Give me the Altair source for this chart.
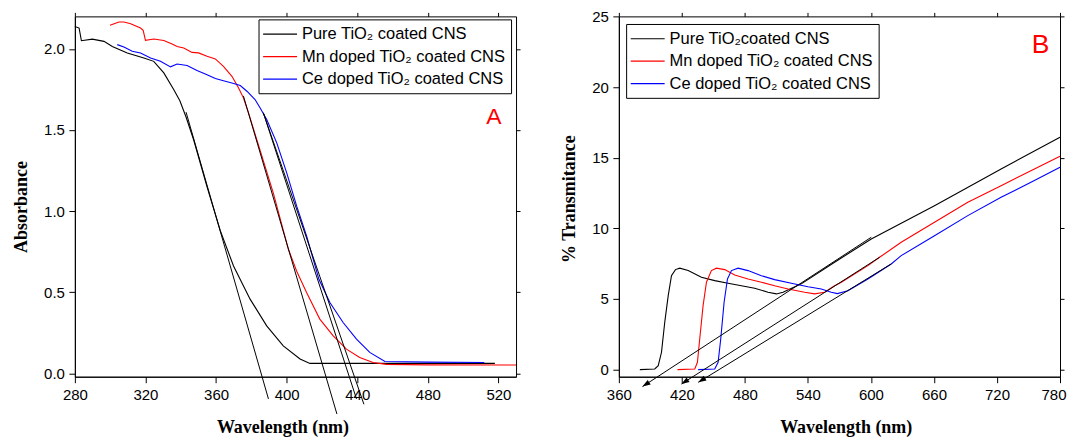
import altair as alt
import pandas as pd

# ---------------- Panel A : Absorbance ----------------
a_pure_x = [280, 282.4, 283.7, 289.9, 296.5, 301.2, 309.7, 319.1, 324.7, 330.4, 336, 339.5, 343, 347.3,
            354.9, 362.4, 369.9, 379.3, 388.7, 398.1, 407.6, 413.2, 460, 518]
a_pure_y = [2.138, 2.128, 2.05, 2.06, 2.046, 2.015, 1.975, 1.944, 1.923, 1.852, 1.749, 1.68, 1.58, 1.44,
            1.15, 0.88, 0.662, 0.458, 0.293, 0.17, 0.089, 0.062, 0.062, 0.062]

a_mn_x = [299.9, 305, 307.8, 311.6, 317.2, 318.7, 320, 324.7, 330.4, 335.1, 337.9, 341.7, 346.4, 350.1,
          354.9, 359.6, 364.2, 369, 372.7, 375.5, 378.4, 392.5, 401, 405.7, 411.3, 418.8, 426.4, 433.9,
          441.4, 449, 456.5, 480, 530]
a_mn_y = [2.145, 2.165, 2.165, 2.155, 2.128, 2.114, 2.052, 2.061, 2.052, 2.03, 2.015, 2.005, 1.978, 1.975,
          1.954, 1.938, 1.892, 1.831, 1.76, 1.698, 1.606, 1.11, 0.765, 0.63, 0.499, 0.335, 0.232, 0.15,
          0.099, 0.068, 0.056, 0.053, 0.052]

a_ce_x = [304, 307.8, 312.5, 317.2, 322.9, 328.5, 334.2, 337.9, 343.6, 349.2, 354.9, 359.6, 364.2, 370,
          373.7, 377.5, 382.1, 385, 388.7, 394.4, 400, 405.7, 411.3, 418.3, 424.5, 432, 439.6, 447.1,
          455.7, 480, 512]
a_ce_y = [2.026, 2.011, 1.985, 1.975, 1.944, 1.923, 1.889, 1.907, 1.897, 1.866, 1.841, 1.817, 1.804, 1.786,
          1.774, 1.739, 1.688, 1.636, 1.565, 1.421, 1.237, 1.031, 0.847, 0.58, 0.437, 0.314, 0.212, 0.13,
          0.074, 0.07, 0.068]

# tangent (extrapolation) lines, panel A
a_tan_id = ["t1", "t1", "t2", "t2", "t3", "t3", "t4", "t4"]
a_tan_x = [343, 389.7, 375.5, 428.5, 386.8, 439.6, 386.8, 443.8]
a_tan_y = [1.61, -0.157, 1.71, -0.25, 1.606, -0.157, 1.606, -0.19]

# ---------------- Panel B : % Transmitance ----------------
b_pure_x = [380, 394.2, 397.5, 400.6, 403.7, 407, 410.1, 413.9, 418, 426, 438.6, 451.3, 464, 476.7,
            489.3, 502, 510, 516.3, 533.7, 565.4, 600.3, 660.5, 723.9, 780]
b_pure_y = [0, 0.05, 0.28, 1.23, 3.35, 5.24, 6.65, 7.08, 7.18, 7.01, 6.54, 6.3, 6.11, 5.94,
            5.76, 5.48, 5.36, 5.48, 6.07, 7.6, 9.25, 11.6, 14.2, 16.45]

b_mn_x = [415.8, 432.3, 434.8, 437, 440.2, 443.4, 448.1, 452.9, 460.8, 470.3, 483, 495.7, 508.3, 521.1,
          536.9, 546.4, 555.9, 565.4, 571.8, 597.1, 608.2, 628.8, 660.5, 692.2, 723.9, 755.6, 780]
b_mn_y = [0, 0.05, 0.52, 2.17, 4.53, 6.19, 7.01, 7.18, 7.08, 6.7, 6.42, 6.19, 5.94, 5.71,
          5.48, 5.36, 5.48, 5.94, 6.19, 7.36, 7.95, 9.01, 10.43, 11.85, 13.02, 14.2, 15.1]

b_ce_x = [435.5, 451.3, 454.5, 457, 460.2, 463.4, 467.2, 473.5, 483, 495.7, 508.3, 524.2, 540.1, 552.7,
          562.2, 568, 578.1, 597.1, 619.3, 628.8, 660.5, 692.2, 723.9, 755.6, 780]
b_ce_y = [0, 0.05, 0.52, 2.17, 4.77, 6.42, 7.01, 7.18, 7.01, 6.65, 6.37, 6.11, 5.87, 5.71,
          5.48, 5.38, 5.59, 6.42, 7.48, 8.07, 9.48, 10.9, 12.2, 13.38, 14.32]

b_tan_id = ["t1", "t1", "t2", "t2", "t3", "t3"]
b_tan_x = [600.3, 382.5, 608.2, 419.5, 619.3, 435.6]
b_tan_y = [9.37, -1.2, 7.95, -1.02, 7.48, -0.9]

# arrow heads at the lower ends of panel B tangents
b_arrow_x = [382.5, 419.5, 435.6]
b_arrow_y = [-1.2, -1.02, -0.9]
b_arrow_angle = [236.9, 237.4, 238.5]

names_A = ["Pure TiO\u2082 coated CNS", "Mn doped TiO\u2082 coated CNS", "Ce doped TiO\u2082 coated CNS"]
names_B = ["Pure TiO\u2082coated CNS", "Mn doped TiO\u2082 coated CNS", "Ce doped TiO\u2082 coated CNS"]
colors = ["#000000", "#ff0000", "#0000ff"]

a_letter = ["A"]; a_letter_x = [517.4]; a_letter_y = [1.577]
b_letter = ["B"]; b_letter_x = [761.4]; b_letter_y = [23.0]

SANS = "Liberation Sans"
SERIF = "Liberation Serif"


def curves_df(names, xs_list, ys_list):
    rows = []
    for name, xs, ys in zip(names, xs_list, ys_list):
        for i, (x, y) in enumerate(zip(xs, ys)):
            rows.append({"wl": x, "val": y, "series": name, "order": i})
    return pd.DataFrame(rows)


def tan_df(ids, xs, ys):
    return pd.DataFrame({"id": ids, "wl": xs, "val": ys, "order": list(range(len(xs)))})


AX_STYLE = dict(domainColor="black", tickColor="black", tickSize=6, labelFont=SANS, labelFontSize=15,
                labelColor="black", titleFont=SERIF, titleFontSize=18, titleFontWeight="bold",
                titleColor="black", grid=False, labelFlush=False)


def panel(curves, tans, letter_df, letter_size, names, xdom, ydom, xvals, yvals, yfmt, ytitle,
          legend_xy, title_x, title_y, arrows=None, edge_label=None):
    xs = alt.Scale(domain=xdom, nice=False, zero=False)
    ys = alt.Scale(domain=ydom, nice=False, zero=False)
    extra = {}
    if edge_label is not None:
        # keep the last label inside the page, as in the reference
        extra = dict(
            labelAlign={"condition": {"test": f"datum.value == {edge_label}", "value": "right"},
                        "value": "center"},
            labelOffset={"condition": {"test": f"datum.value == {edge_label}", "value": 6},
                         "value": 0},
        )
    ax = alt.Axis(values=xvals, title="Wavelength (nm)", format="d", titleX=title_x, titleAlign="center",
                  labelPadding=5, titlePadding=16, **extra, **AX_STYLE)
    ay = alt.Axis(values=yvals, title=ytitle, format=yfmt, titleY=title_y, titleAlign="center",
                  labelPadding=4.5, titlePadding=13, **AX_STYLE)

    lines = alt.Chart(curves).mark_line(strokeWidth=1.1).encode(
        x=alt.X("wl:Q", scale=xs, axis=ax),
        y=alt.Y("val:Q", scale=ys, axis=ay),
        color=alt.Color("series:N", scale=alt.Scale(domain=names, range=colors),
                        legend=alt.Legend(title=None, orient="none", legendX=legend_xy[0],
                                          legendY=legend_xy[1], symbolType="M-1.2,0L2.8,0",
                                          symbolSize=289, symbolStrokeWidth=1.2,
                                          labelFont=SANS, labelFontSize=16.5, labelColor="black",
                                          labelOffset=19.2, labelLimit=400, padding=5.3,
                                          rowPadding=4.5, strokeColor="black", fillColor="white")),
        detail="series:N",
        order="order:Q",
    )
    tl = alt.Chart(tans).mark_line(strokeWidth=1, color="black", clip=False).encode(
        x=alt.X("wl:Q", axis=None),
        y=alt.Y("val:Q", axis=None),
        detail="id:N",
        order="order:Q",
    )
    txt = alt.Chart(letter_df).mark_text(color="red", font=SANS, fontSize=letter_size,
                                         align="center", baseline="middle").encode(
        x=alt.X("wl:Q", axis=None),
        y=alt.Y("val:Q", axis=None),
        text="t:N",
    )
    mirror = alt.Chart(curves).mark_point(opacity=0).encode(
        x=alt.X("wl:Q", axis=alt.Axis(orient="top", values=xvals, labels=False, title=None,
                                       tickSize=4, tickColor="black", domain=False, grid=False)),
        y=alt.Y("val:Q", axis=alt.Axis(orient="right", values=yvals, labels=False, title=None,
                                        tickSize=4, tickColor="black", domain=False, grid=False)),
    )
    layers = [lines, tl, txt, mirror]
    if arrows is not None:
        arr = alt.Chart(arrows).mark_point(shape="M0,0L-0.35,1L0.35,1Z", filled=True, size=256,
                                           color="black", opacity=1, clip=False).encode(
            x=alt.X("wl:Q", axis=None),
            y=alt.Y("val:Q", axis=None),
            angle=alt.Angle("ang:Q", scale=None),
        )
        layers.append(arr)
    return alt.layer(*layers).resolve_axis(x="independent", y="independent").properties(
        width=442, height=361)


curvesA = curves_df(names_A, [a_pure_x, a_mn_x, a_ce_x], [a_pure_y, a_mn_y, a_ce_y])
curvesB = curves_df(names_B, [b_pure_x, b_mn_x, b_ce_x], [b_pure_y, b_mn_y, b_ce_y])
tansA = tan_df(a_tan_id, a_tan_x, a_tan_y)
tansB = tan_df(b_tan_id, b_tan_x, b_tan_y)
lettersA = pd.DataFrame({"t": a_letter, "wl": a_letter_x, "val": a_letter_y})
lettersB = pd.DataFrame({"t": b_letter, "wl": b_letter_x, "val": b_letter_y})
arrowsB = pd.DataFrame({"wl": b_arrow_x, "val": b_arrow_y, "ang": b_arrow_angle})

pA = panel(curvesA, tansA, lettersA, 23, names_A, [280, 530], [-0.02, 2.2],
           [280, 320, 360, 400, 440, 480, 520], [0, 0.5, 1.0, 1.5, 2.0], ".1f", "Absorbance",
           (184, 3), 208, 190.5)
pB = panel(curvesB, tansB, lettersB, 26.5, names_B, [360, 780], [-0.5, 25],
           [360, 420, 480, 540, 600, 660, 720, 780], [0, 5, 10, 15, 20, 25], "d", "% Transmitance",
           (7.3, 7.6), 227.3, 182.6, arrows=arrowsB, edge_label=780)

chart = alt.hconcat(pA, pB, spacing=39).resolve_scale(color="independent").properties(
    padding={"left": 4, "top": 0, "right": 0, "bottom": 0},
    background="white",
).configure_view(stroke="black", strokeWidth=1)

chart.save("out.html", embed_options={"renderer": "svg", "actions": False})
